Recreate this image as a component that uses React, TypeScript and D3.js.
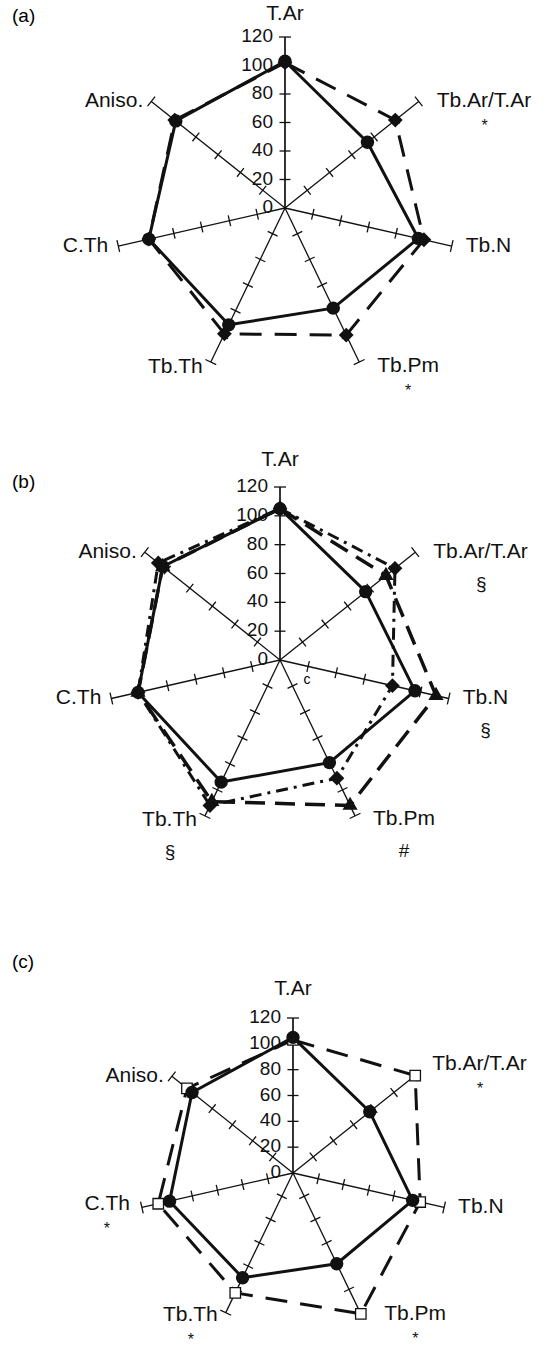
import React from "react";
import * as d3 from "d3";

const width = 548;
const height = 1348;
const font = "'Liberation Sans', Arial, Helvetica, sans-serif";

// axes of every radar, clockwise from the top
const axisNames = ["T.Ar", "Tb.Ar/T.Ar", "Tb.N", "Tb.Pm", "Tb.Th", "C.Th", "Aniso."];
const tickValues = [0, 20, 40, 60, 80, 100, 120];

// panel (a)
const aControl = [103, 74, 96, 78, 91, 98, 98];
const aTreated = [102, 99, 100, 99, 98, 98, 99];
const aMarks = ["", "*", "", "*", "", "", ""];

// panel (b)
const bControl = [105, 76, 96, 79, 94, 101, 104];
const bGroup1 = [105, 94, 111, 112, 109, 101, 104];
const bGroup2 = [105, 102, 80, 91, 112, 101, 108];
const bMarks = ["", "§", "§", "#", "§", "", ""];

// panel (c)
const cControl = [105, 76, 95, 78, 90, 98, 100];
const cTreated = [103, 121, 101, 121, 103, 107, 105];
const cMarks = ["", "*", "", "*", "*", "*", ""];

const labelOffsets = [
  { dx: 0, dy: -27, anchor: "middle", markDx: 0 },
  { dx: 18, dy: 0, anchor: "start", markDx: 48 },
  { dx: 14, dy: 0, anchor: "start", markDx: 23 },
  { dx: 18, dy: 4, anchor: "start", markDx: 31 },
  { dx: -8, dy: 5, anchor: "end", markDx: -27 },
  { dx: -10, dy: 0, anchor: "end", markDx: -23 },
  { dx: -8, dy: 0, anchor: "end", markDx: -30 },
];

type Series = {
  values: number[];
  dash?: string;
  strokeWidth: number;
  symbol: "circle" | "diamond" | "triangle" | "square";
};

const angleOf = (i: number) => (i * 2 * Math.PI) / axisNames.length;

function Marker({ kind, x, y }: { kind: Series["symbol"]; x: number; y: number }) {
  if (kind === "circle") {
    return <path d={d3.symbol(d3.symbolCircle, 140)() || ""} transform={`translate(${x},${y})`} fill="#111" />;
  }
  if (kind === "diamond") {
    return (
      <path
        d={d3.symbol(d3.symbolSquare, 110)() || ""}
        transform={`translate(${x},${y}) rotate(45)`}
        fill="#111"
      />
    );
  }
  if (kind === "triangle") {
    return <path d={d3.symbol(d3.symbolTriangle, 100)() || ""} transform={`translate(${x},${y})`} fill="#111" />;
  }
  return (
    <path
      d={d3.symbol(d3.symbolSquare, 110)() || ""}
      transform={`translate(${x},${y})`}
      fill="#fff"
      stroke="#111"
      strokeWidth={1.3}
    />
  );
}

function Radar({
  cx,
  cy,
  radius,
  tag,
  tagY,
  series,
  marks,
  shifts = {},
  extra,
}: {
  cx: number;
  cy: number;
  radius: number;
  tag: string;
  tagY: number;
  series: Series[];
  marks: string[];
  shifts?: Record<number, [number, number]>;
  extra?: React.ReactNode;
}) {
  const r = d3.scaleLinear().domain([0, 120]).range([0, radius]);
  const path = d3
    .lineRadial<number>()
    .angle((_, i) => angleOf(i))
    .radius((v) => r(v))
    .curve(d3.curveLinearClosed);

  return (
    <g>
      <text x={12} y={tagY} fontSize={19} fontFamily={font} dominantBaseline="middle">
        {tag}
      </text>
      <g transform={`translate(${cx},${cy})`}>
        {axisNames.map((name, i) => {
          const a = angleOf(i);
          const [ex, ey] = d3.pointRadial(a, r(120));
          const px = Math.cos(a);
          const py = Math.sin(a);
          const off = labelOffsets[i];
          const [sx, sy] = shifts[i] || [0, 0];
          const lx = ex + off.dx + sx;
          const ly = ey + off.dy + sy;
          return (
            <g key={name}>
              <line x1={0} y1={0} x2={ex} y2={ey} stroke="#111" strokeWidth={i === 0 ? 1.7 : 1.3} />
              {tickValues.slice(1).map((t) => {
                const [tx, ty] = d3.pointRadial(a, r(t));
                const len = t === 120 ? 6 : 5.5;
                return (
                  <line
                    key={t}
                    x1={tx - px * len}
                    y1={ty - py * len}
                    x2={tx + px * len}
                    y2={ty + py * len}
                    stroke="#111"
                    strokeWidth={1.3}
                  />
                );
              })}
              <text
                x={lx}
                y={ly}
                fontSize={21}
                fontFamily={font}
                textAnchor={off.anchor}
                dominantBaseline="middle"
                fill="#111"
              >
                {name}
              </text>
              {marks[i] && (
                <text
                  x={lx + off.markDx}
                  y={ly + (marks[i] === "*" ? 24 : 31)}
                  fontSize={marks[i] === "*" ? 16 : 19}
                  fontFamily={font}
                  textAnchor="middle"
                  dominantBaseline="central"
                  fill="#111"
                >
                  {marks[i]}
                </text>
              )}
            </g>
          );
        })}
        {tickValues.map((t) => (
          <text
            key={t}
            x={-12}
            y={-r(t)}
            fontSize={19}
            fontFamily={font}
            textAnchor="end"
            dominantBaseline="middle"
            fill="#111"
          >
            {t}
          </text>
        ))}
        {extra}
        {series.map((s, si) => (
          <g key={si}>
            <path
              d={path(s.values) || ""}
              fill="none"
              stroke="#111"
              strokeWidth={s.strokeWidth}
              strokeDasharray={s.dash}
              strokeLinejoin="round"
            />
            {s.values.map((v, i) => {
              const [x, y] = d3.pointRadial(angleOf(i), r(v));
              return <Marker key={i} kind={s.symbol} x={x} y={y} />;
            })}
          </g>
        ))}
      </g>
    </g>
  );
}

export default function App() {
  return (
    <svg
      width={width}
      height={height}
      style={{ position: "absolute", left: 0, top: 0, background: "#fff" }}
    >
      <rect width={width} height={height} fill="#fff" />
      <Radar
        cx={285}
        cy={208}
        radius={171}
        tag="(a)"
        tagY={17}
        marks={aMarks}
        shifts={{ 0: [0, 4] }}
        series={[
          { values: aTreated, dash: "22 13", strokeWidth: 3, symbol: "diamond" },
          { values: aControl, strokeWidth: 3, symbol: "circle" },
        ]}
      />
      <Radar
        cx={280}
        cy={660}
        radius={173}
        tag="(b)"
        tagY={483}
        marks={bMarks}
        extra={
          <text x={27} y={20} fontSize={14} fontFamily={font} textAnchor="middle" dominantBaseline="middle">
            c
          </text>
        }
        series={[
          { values: bGroup1, dash: "20 10", strokeWidth: 3.5, symbol: "triangle" },
          { values: bGroup2, dash: "12 6 3 6", strokeWidth: 3, symbol: "diamond" },
          { values: bControl, strokeWidth: 3, symbol: "circle" },
        ]}
      />
      <Radar
        cx={293}
        cy={1173}
        radius={155}
        tag="(c)"
        tagY={963}
        marks={cMarks}
        shifts={{ 0: [0, -2], 1: [0, -12], 3: [6, -2], 4: [0, -2], 5: [-2, -3] }}
        series={[
          { values: cTreated, dash: "22 13", strokeWidth: 3, symbol: "square" },
          { values: cControl, strokeWidth: 3, symbol: "circle" },
        ]}
      />
    </svg>
  );
}
